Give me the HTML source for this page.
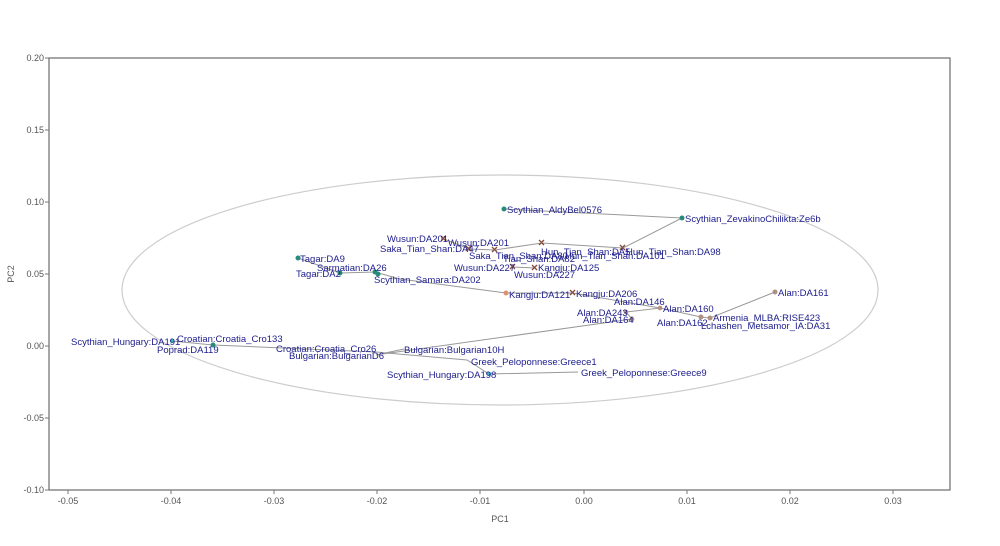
<!DOCTYPE html>
<html><head><meta charset="utf-8"><style>
body{margin:0;background:#fff}
svg{display:block;font-family:"Liberation Sans",sans-serif}
.t{font-size:9px;fill:#555}
.l{font-size:9.5px;fill:#1c1c8c}
</style></head><body>
<svg width="1000" height="546" viewBox="0 0 1000 546">
<rect x="49" y="58" width="901" height="432" fill="#fff" stroke="#777" stroke-width="1.3"/>
<g stroke="#777" stroke-width="1">
<line x1="45" y1="58" x2="49" y2="58"/><line x1="45" y1="130" x2="49" y2="130"/><line x1="45" y1="202" x2="49" y2="202"/><line x1="45" y1="274" x2="49" y2="274"/><line x1="45" y1="346" x2="49" y2="346"/><line x1="45" y1="418" x2="49" y2="418"/><line x1="45" y1="490" x2="49" y2="490"/>
<line x1="68" y1="490" x2="68" y2="494"/><line x1="171" y1="490" x2="171" y2="494"/><line x1="274" y1="490" x2="274" y2="494"/><line x1="377" y1="490" x2="377" y2="494"/><line x1="480" y1="490" x2="480" y2="494"/><line x1="584" y1="490" x2="584" y2="494"/><line x1="687" y1="490" x2="687" y2="494"/><line x1="790" y1="490" x2="790" y2="494"/><line x1="893" y1="490" x2="893" y2="494"/>
</g>
<g class="t" text-anchor="end">
<text x="44" y="61">0.20</text><text x="44" y="133">0.15</text><text x="44" y="205">0.10</text><text x="44" y="277">0.05</text><text x="44" y="349">0.00</text><text x="44" y="421">-0.05</text><text x="44" y="493">-0.10</text>
</g>
<g class="t" text-anchor="middle">
<text x="68" y="504">-0.05</text><text x="171" y="504">-0.04</text><text x="274" y="504">-0.03</text><text x="377" y="504">-0.02</text><text x="480" y="504">-0.01</text><text x="584" y="504">0.00</text><text x="687" y="504">0.01</text><text x="790" y="504">0.02</text><text x="893" y="504">0.03</text>
<text x="500" y="522">PC1</text>
<text x="14" y="274" transform="rotate(-90 14 274)">PC2</text>
</g>
<ellipse cx="500" cy="290" rx="378" ry="115" fill="none" stroke="#ccc" stroke-width="1.2"/>
<g stroke="#999" stroke-width="1" fill="none">
<polyline points="504,209 682,218 623,248 542,243 495,250 469,249 444,239"/>
<polyline points="298,258 340,273 375,272 400,279 506,293 573,293 660,308 626,312 632,319"/>
<polyline points="632,319 376,355 404,349"/>
<polyline points="660,308 701,317 710,318 775,292"/>
<polyline points="172,341 213,345 376,352 467,360 489,374 578,372"/>
<polyline points="513,267 535,268"/>
</g>
<g fill="#2a8a7a">
<circle cx="504" cy="209" r="2.5"/><circle cx="682" cy="218" r="2.5"/><circle cx="298" cy="258" r="2.5"/><circle cx="340" cy="273" r="2.5"/><circle cx="375" cy="272" r="2.5"/><circle cx="378" cy="274" r="2.5"/><circle cx="172" cy="341" r="2.2" fill="#4bb"/><circle cx="213" cy="345" r="2.5"/><circle cx="489" cy="374" r="2.2" fill="#4bb"/>
</g>
<g fill="#e09070"><circle cx="506" cy="293" r="2.5"/></g>
<g fill="#b09080"><circle cx="660" cy="308" r="2.3"/><circle cx="626" cy="312" r="2.3"/><circle cx="632" cy="319" r="2.3"/><circle cx="701" cy="317" r="2.5"/><circle cx="710" cy="318" r="2.5"/><circle cx="775" cy="292" r="2.5"/></g>
<g stroke="#8a4a3a" stroke-width="1.3">
<path d="M441,236l5,5m0,-5l-5,5M466,246l5,5m0,-5l-5,5M492,247l5,5m0,-5l-5,5M539,240l5,5m0,-5l-5,5M620,245l5,5m0,-5l-5,5M510,264l5,5m0,-5l-5,5M532,265l5,5m0,-5l-5,5M570,290l5,5m0,-5l-5,5"/>
</g>
<g class="l">
<text x="507" y="213">Scythian_AldyBel0576</text>
<text x="685" y="222">Scythian_ZevakinoChilikta:Ze6b</text>
<text x="387" y="242">Wusun:DA201</text>
<text x="448" y="246">Wusun:DA201</text>
<text x="380" y="252">Saka_Tian_Shan:DA47</text>
<text x="469" y="259">Saka_Tian_Shan:DA80</text>
<text x="541" y="255">Hun_Tian_Shan:DA5</text>
<text x="503" y="262">Tian_Shan:DA82</text>
<text x="565" y="259">Hun_Tian_Shan:DA101</text>
<text x="626" y="255">Hun_Tian_Shan:DA98</text>
<text x="300" y="262">Tagar:DA9</text>
<text x="317" y="271">Sarmatian:DA26</text>
<text x="296" y="277">Tagar:DA2</text>
<text x="374" y="283">Scythian_Samara:DA202</text>
<text x="454" y="271">Wusun:DA227</text>
<text x="538" y="271">Kangju:DA125</text>
<text x="514" y="278">Wusun:DA227</text>
<text x="509" y="298">Kangju:DA121</text>
<text x="576" y="297">Kangju:DA206</text>
<text x="614" y="305">Alan:DA146</text>
<text x="577" y="316">Alan:DA243</text>
<text x="583" y="323">Alan:DA164</text>
<text x="663" y="312">Alan:DA160</text>
<text x="657" y="326">Alan:DA162</text>
<text x="713" y="321">Armenia_MLBA:RISE423</text>
<text x="701" y="329">Lchashen_Metsamor_IA:DA31</text>
<text x="778" y="296">Alan:DA161</text>
<text x="71" y="345">Scythian_Hungary:DA191</text>
<text x="177" y="342">Croatian:Croatia_Cro133</text>
<text x="157" y="353">Poprad:DA119</text>
<text x="276" y="352">Croatian:Croatia_Cro26</text>
<text x="289" y="359">Bulgarian:BulgarianD6</text>
<text x="404" y="353">Bulgarian:Bulgarian10H</text>
<text x="471" y="365">Greek_Peloponnese:Greece1</text>
<text x="387" y="378">Scythian_Hungary:DA198</text>
<text x="581" y="376">Greek_Peloponnese:Greece9</text>
</g>
</svg>
</body></html>
